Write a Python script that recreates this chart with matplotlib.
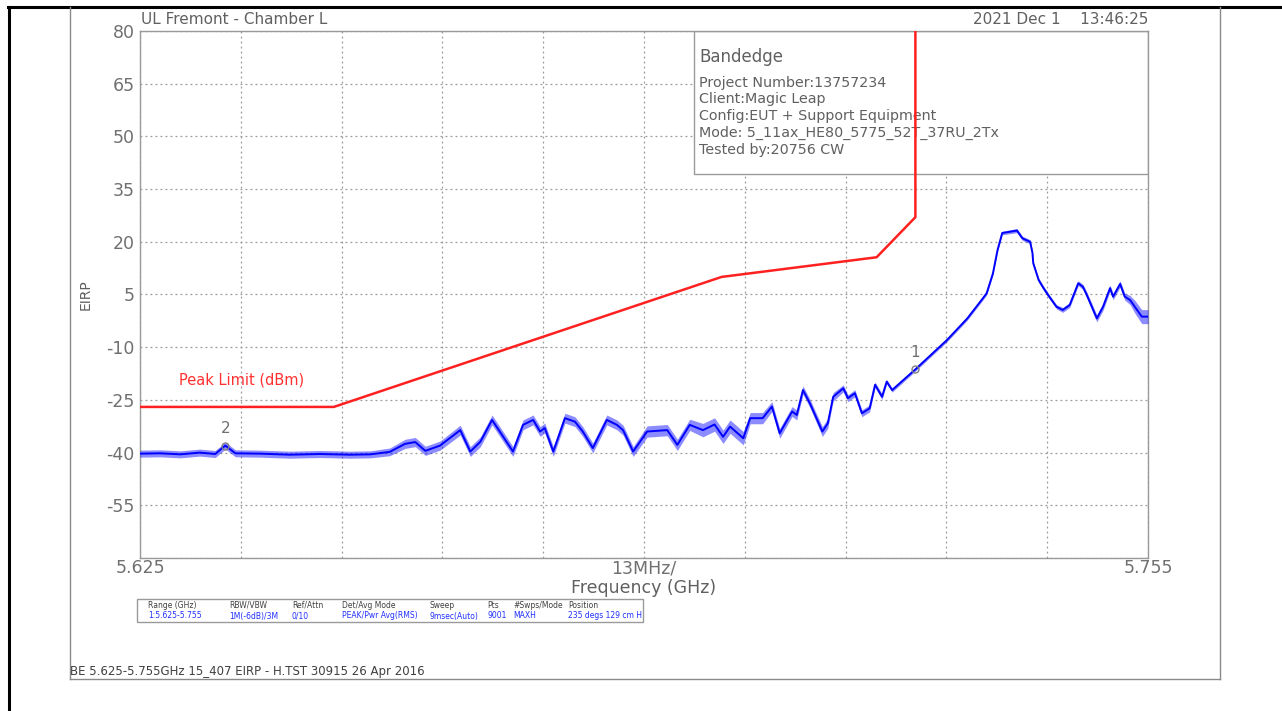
import matplotlib
matplotlib.use("Agg")
import matplotlib.pyplot as plt
from matplotlib.patches import Rectangle
from matplotlib.lines import Line2D
import numpy as np

# ---------------- data ----------------
limit_freq = [5.625, 5.650, 5.700, 5.720, 5.725, 5.725]
limit_val = [-27.0, -27.0, 10.0, 15.6, 27.0, 80.0]

trace_freq = [5.6250, 5.6276, 5.6302, 5.6327, 5.6347, 5.6360, 5.6373, 5.6405, 5.6443,
              5.6482, 5.6521, 5.6547, 5.6572, 5.6592, 5.6605, 5.6618, 5.6637, 5.6663,
              5.6676, 5.6689, 5.6704, 5.6714, 5.6731, 5.6744, 5.6757, 5.6766, 5.6772,
              5.6783, 5.6798, 5.6811, 5.6821, 5.6834, 5.6852, 5.6865, 5.6873, 5.6886,
              5.6904, 5.6930, 5.6943, 5.6959, 5.6976, 5.6991, 5.7002, 5.7011, 5.7028,
              5.7037, 5.7053, 5.7065, 5.7075, 5.7091, 5.7097, 5.7105, 5.7114, 5.7130,
              5.7137, 5.7144, 5.7157, 5.7163, 5.7172, 5.7181, 5.7191, 5.7198, 5.7207,
              5.7213, 5.7220, 5.7250, 5.7291, 5.7317, 5.7337, 5.7342, 5.7350, 5.7356,
              5.7362, 5.7381, 5.7388, 5.7398, 5.7401, 5.7402, 5.7409, 5.7415, 5.7421,
              5.7432, 5.7440, 5.7449, 5.7460, 5.7466, 5.7471, 5.7484, 5.7492, 5.7501,
              5.7505, 5.7514, 5.7520, 5.7527, 5.7533, 5.7542, 5.7550]
trace_val = [-40.3, -40.2, -40.5, -40.0, -40.4, -38.0, -40.2, -40.3, -40.6,
             -40.4, -40.6, -40.5, -39.8, -37.5, -37.0, -39.5, -38.0, -33.6,
             -39.7, -36.9, -30.7, -34.0, -39.7, -32.1, -30.7, -34.0, -33.0,
             -39.7, -30.2, -31.2, -34.0, -38.7, -30.7, -32.1, -33.6, -39.7,
             -34.0, -33.6, -37.8, -32.1, -33.6, -32.0, -35.5, -32.6, -35.9,
             -30.2, -30.2, -26.9, -34.5, -28.3, -29.3, -22.2, -26.0, -34.0,
             -31.7, -24.1, -21.7, -24.5, -23.1, -28.8, -27.4, -20.7, -24.1,
             -19.8, -22.2, -16.3, -7.9, -1.8, 3.9, 5.4, 11.0, 17.7,
             22.5, 23.2, 21.0, 20.0, 16.8, 13.9, 9.1, 6.9, 4.9,
             1.5, 0.6, 2.0, 8.2, 7.2, 4.9, -1.8, 1.5, 6.8,
             4.4, 8.0, 4.4, 3.4, 1.5, -1.3, -1.3]
trace_spread = [1.0, 1.0, 1.0, 1.0, 1.0, 1.0, 1.0, 1.0, 1.0,
                1.0, 1.0, 1.0, 1.1, 1.3, 1.3, 1.3, 1.3, 1.4,
                1.4, 1.4, 1.4, 1.4, 1.4, 1.4, 1.4, 1.4, 1.4,
                1.4, 1.4, 1.4, 1.4, 1.4, 1.4, 1.4, 1.4, 1.4,
                1.6, 1.6, 1.6, 1.6, 1.9, 1.9, 1.9, 1.9, 1.9,
                1.6, 1.6, 1.4, 1.4, 1.4, 1.4, 1.2, 1.2, 1.4,
                1.4, 1.2, 1.0, 1.0, 1.0, 1.0, 1.0, 0.8, 0.8,
                0.6, 0.6, 0.5, 0.5, 0.5, 0.5, 0.5, 0.5, 0.5,
                0.5, 0.6, 0.6, 0.6, 0.6, 0.6, 0.6, 0.6, 0.6,
                0.6, 0.7, 0.7, 0.7, 0.7, 0.9, 1.0, 1.0, 0.9,
                0.9, 0.9, 1.0, 1.3, 1.8, 2.0, 2.0]

markers_freq = [5.7250, 5.6360]
markers_val = [-16.3, -38.0]
markers_lbl = ["1", "2"]

yticks = [80, 65, 50, 35, 20, 5, -10, -25, -40, -55, -70]
ytick_labels = ["80", "65", "50", "35", "20", "5", "-10", "-25", "-40", "-55", ""]
xticks = [5.625 + 0.013 * i for i in range(11)]
xtick_labels = ["5.625", "", "", "", "", "13MHz/", "", "", "", "", "5.755"]

info_title = "Bandedge"
info_lines = ["Project Number:13757234", "Client:Magic Leap",
              "Config:EUT + Support Equipment", "Mode: 5_11ax_HE80_5775_52T_37RU_2Tx",
              "Tested by:20756 CW"]

table_headers = ["Range (GHz)", "RBW/VBW", "Ref/Attn", "Det/Avg Mode", "Sweep",
                 "Pts", "#Swps/Mode", "Position"]
table_values = ["1:5.625-5.755", "1M(-6dB)/3M", "0/10", "PEAK/Pwr Avg(RMS)",
                "9msec(Auto)", "9001", "MAXH", "235 degs 129 cm H"]

# ---------------- figure ----------------
W, H = 1282, 711
fig = plt.figure(figsize=(W / 100, H / 100), dpi=100)
fig.patch.set_facecolor("white")

def fx(px):
    return px / W

def fy(py):
    return 1 - py / H

TXT = "#606060"

ax = fig.add_axes([fx(140), fy(558), (1148 - 140) / W, (558 - 31) / H])
ax.set_xlim(5.625, 5.755)
ax.set_ylim(-70, 80)
ax.set_xticks(xticks)
ax.set_xticklabels(xtick_labels)
ax.set_yticks(yticks)
ax.set_yticklabels(ytick_labels)
ax.tick_params(length=0, labelsize=12.5, labelcolor="#707070")
ax.tick_params(axis="y", pad=4)
ax.tick_params(axis="x", pad=1)
for s in ax.spines.values():
    s.set_color("#9a9a9a")
    s.set_linewidth(1.0)
ax.grid(True, color="#9a9a9a", linestyle=(0, (1.5, 2.5)), linewidth=0.9)
ax.set_axisbelow(True)
ax.set_xlabel("Frequency (GHz)", fontsize=12.5, color=TXT, labelpad=1)
ax.set_ylabel("EIRP", fontsize=10, color=TXT, labelpad=10)

# info box
box = Rectangle(((694 - 140) / 1008, 0.7287), (1148 - 694) / 1008, 0.2713,
                transform=ax.transAxes, facecolor="white", edgecolor="#9a9a9a",
                linewidth=1.0, zorder=2)
ax.add_patch(box)
ax.text((699 - 140) / 1008, 0.950, info_title, transform=ax.transAxes, fontsize=12,
        color=TXT, va="center", ha="left", zorder=3)
for i, ln in enumerate(info_lines):
    ax.text((699 - 140) / 1008, 0.902 - i * 0.0318, ln, transform=ax.transAxes,
            fontsize=10.3, color=TXT, va="center", ha="left", zorder=3)

# trace
tf = np.array(trace_freq)
tv = np.array(trace_val)
ts = np.array(trace_spread)
ax.fill_between(tf, tv - ts, tv + ts, color="#0000ff", alpha=0.45, linewidth=0, zorder=4)
ax.plot(tf, tv, color="#0000ff", linewidth=1.4, zorder=5)

# limit
ax.plot(limit_freq, limit_val, color="#ff2020", linewidth=1.8, zorder=6)
ax.text(5.6300, -19.2, "Peak Limit (dBm)", fontsize=10.5, color="#ff3030",
        va="center", ha="left", zorder=6)

# markers
for mf, mv, ml in zip(markers_freq, markers_val, markers_lbl):
    ax.plot([mf], [mv], marker="o", markersize=5, markerfacecolor="none",
            markeredgecolor="#808080", markeredgewidth=1.0, zorder=7)
    ax.text(mf, mv + 2.6, ml, fontsize=11, color="#707070", ha="center",
            va="bottom", zorder=7)

# header texts
fig.text(fx(141), fy(20), "UL Fremont - Chamber L", fontsize=11, color=TXT,
         ha="left", va="center")
fig.text(fx(1148), fy(19), "2021 Dec 1    13:46:25", fontsize=11, color=TXT,
         ha="right", va="center")

# settings table
fig.add_artist(Rectangle((fx(137), fy(622)), (643 - 137) / W, (622 - 599) / H,
                         transform=fig.transFigure, facecolor="white",
                         edgecolor="#9a9a9a", linewidth=1.0))
col_x = [148, 229, 292, 342, 430, 487, 513, 568]
for cx, hd, vl in zip(col_x, table_headers, table_values):
    fig.text(fx(cx), fy(605), hd, fontsize=5.5, color="#404040", ha="left", va="center")
    fig.text(fx(cx), fy(616), vl, fontsize=5.5, color="#2030ff", ha="left", va="center")

# footer
fig.text(fx(70), fy(672), "BE 5.625-5.755GHz 15_407 EIRP - H.TST 30915 26 Apr 2016",
         fontsize=8.5, color="#404040", ha="left", va="center")

# page frame lines
fig.add_artist(Line2D([fx(9), fx(9)], [fy(7), fy(711)], color="black", linewidth=2.2,
                      transform=fig.transFigure))
fig.add_artist(Line2D([fx(8), fx(1282)], [fy(7), fy(7)], color="black", linewidth=2.2,
                      transform=fig.transFigure))
fig.add_artist(Line2D([fx(70), fx(70)], [fy(7), fy(679)], color="#8a8a8a", linewidth=1.0,
                      transform=fig.transFigure))
fig.add_artist(Line2D([fx(1220), fx(1220)], [fy(7), fy(679)], color="#8a8a8a", linewidth=1.0,
                      transform=fig.transFigure))
fig.add_artist(Line2D([fx(70), fx(1220)], [fy(679), fy(679)], color="#8a8a8a", linewidth=1.0,
                      transform=fig.transFigure))

fig.savefig("out.png", dpi=100)
